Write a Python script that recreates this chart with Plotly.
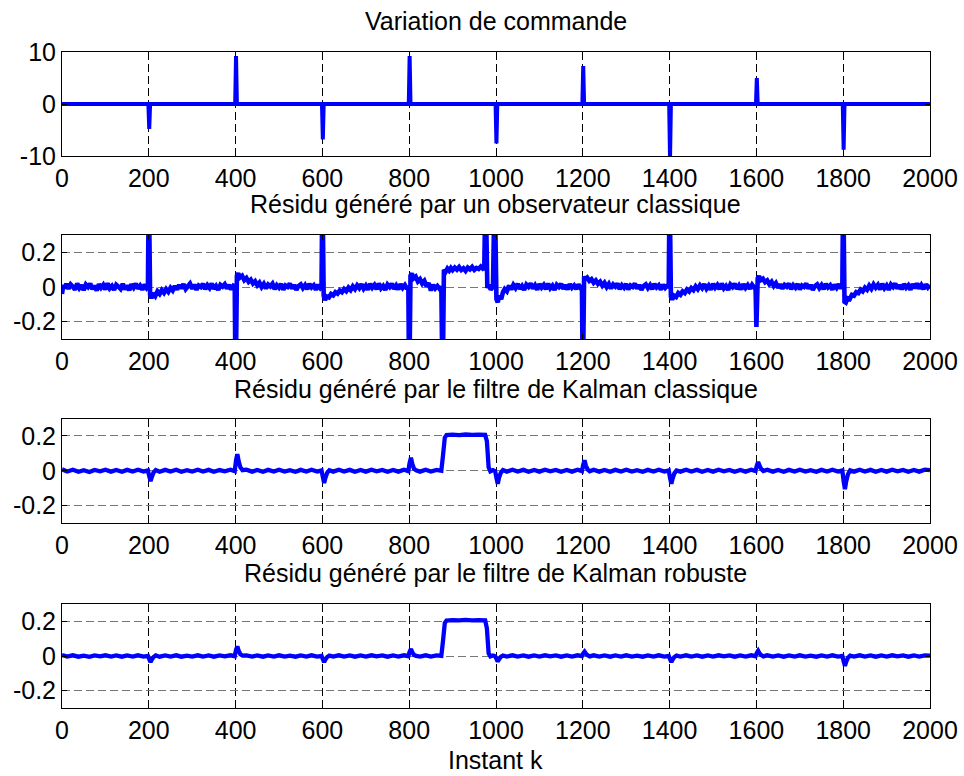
import plotly.graph_objects as go

# ---------------- data ----------------
# Panel 1 : Variation de commande
k_cmd = [0, 199, 201, 203, 399, 401, 403, 599, 601, 603, 799, 801, 803, 999, 1001, 1003,
         1199, 1201, 1203, 1399, 1401, 1403, 1599, 1601, 1603, 1799, 1801, 1803, 2000]
v_cmd = [0, 0, -4.8, 0, 0, 9.2, 0, 0, -6.8, 0, 0, 9.2, 0, 0, -7.6, 0,
         0, 7.3, 0, 0, -10.5, 0, 0, 5.0, 0, 0, -8.8, 0, 0]

# Panel 2 : Résidu généré par un observateur classique (segment by segment)
k_obs_0 = [0, 3, 6, 10, 15, 20, 25, 30, 35, 40, 45, 50, 55, 60, 65, 70, 75, 80, 85, 90, 95,
           100, 105, 110, 115, 120, 125, 130, 135, 140, 145, 150, 155, 160, 165, 170, 175, 180, 185, 190, 195, 198]
v_obs_0 = [-0.04, 0.012, -0.008, 0.018, -0.01, 0.015, 0.002, -0.016, 0.02, -0.006, 0.011, -0.018, 0.014, 0.0,
           0.019, -0.012, 0.008, -0.02, 0.016, -0.004, 0.012, -0.015, 0.021, -0.008, 0.006, -0.017, 0.013, 0.002,
           -0.011, 0.018, -0.014, 0.009, -0.019, 0.015, -0.003, 0.02, -0.01, 0.007, -0.016, 0.014, -0.006, 0.004]
k_obs_200 = [200, 203, 206, 210, 215, 220, 225, 230, 235, 240, 245, 250, 255, 260, 265, 270, 275, 280, 285, 290, 295,
             300, 305, 310, 315, 320, 325, 330, 335, 340, 345, 350, 355, 360, 365, 370, 375, 380, 385, 390, 395, 398]
v_obs_200 = [0.6, -0.045, -0.065, -0.035, -0.052, -0.025, -0.04, -0.018, -0.034, -0.012, -0.028, -0.005, -0.02, 0.006,
             -0.014, 0.012, -0.008, 0.017, -0.012, 0.004, 0.019, -0.01, 0.013, -0.016, 0.008, 0.0, 0.018, -0.013,
             0.01, -0.006, 0.02, -0.011, 0.006, -0.017, 0.012, 0.002, 0.016, -0.009, 0.011, -0.014, 0.007, 0.003]
k_obs_400 = [400, 403, 406, 410, 415, 420, 425, 430, 435, 440, 445, 450, 455, 460, 465, 470, 475, 480, 485, 490, 495,
             500, 505, 510, 515, 520, 525, 530, 535, 540, 545, 550, 555, 560, 565, 570, 575, 580, 585, 590, 595, 598]
v_obs_400 = [-0.6, 0.065, 0.078, 0.055, 0.065, 0.04, 0.052, 0.03, 0.042, 0.02, 0.033, 0.01, 0.025, 0.0,
             0.018, -0.008, 0.014, 0.003, 0.019, -0.012, 0.01, -0.004, 0.017, -0.015, 0.009, 0.001, 0.02, -0.01,
             0.012, -0.017, 0.006, 0.015, -0.006, 0.011, -0.013, 0.018, -0.002, 0.01, -0.016, 0.013, -0.005, 0.004]
k_obs_600 = [600, 603, 606, 610, 615, 620, 625, 630, 635, 640, 645, 650, 655, 660, 665, 670, 675, 680, 685, 690, 695,
             700, 705, 710, 715, 720, 725, 730, 735, 740, 745, 750, 755, 760, 765, 770, 775, 780, 785, 790, 795, 798]
v_obs_600 = [0.6, -0.05, -0.075, -0.055, -0.06, -0.04, -0.048, -0.03, -0.038, -0.02, -0.03, -0.012, -0.024, -0.004,
             -0.018, 0.004, -0.012, 0.01, -0.006, 0.016, -0.01, 0.008, -0.015, 0.018, -0.004, 0.012, -0.012, 0.02,
             -0.008, 0.006, -0.016, 0.014, 0.0, 0.019, -0.011, 0.009, -0.014, 0.016, -0.005, 0.011, -0.01, 0.005]
k_obs_800 = [800, 803, 806, 810, 815, 820, 825, 830, 835, 840, 845, 850, 855, 860, 865, 870, 874]
v_obs_800 = [-0.6, 0.065, 0.078, 0.05, 0.06, 0.032, 0.045, 0.02, 0.035, 0.005, 0.022, -0.02, 0.012, -0.008, 0.006, -0.01, 0.002]
k_obs_877 = [877, 880, 884, 888, 892, 896, 900, 905, 910, 915, 920, 925, 930, 935, 940, 945, 950, 955, 960, 965, 970, 973]
v_obs_877 = [-0.6, 0.1, 0.088, 0.106, 0.094, 0.11, 0.097, 0.112, 0.1, 0.115, 0.098, 0.108, 0.093, 0.112, 0.102,
             0.116, 0.099, 0.11, 0.104, 0.118, 0.106, 0.11]
k_obs_976 = [976, 980, 984, 988, 993]
v_obs_976 = [0.6, -0.005, 0.012, -0.015, 0.002]
k_obs_1000 = [997, 1001, 1004, 1008, 1012, 1016, 1020, 1025, 1030, 1035, 1040, 1045, 1050, 1055, 1060, 1065, 1070,
              1075, 1080, 1085, 1090, 1095, 1100, 1105, 1110, 1115, 1120, 1125, 1130, 1135, 1140, 1145, 1150, 1155,
              1160, 1165, 1170, 1175, 1180, 1185, 1190, 1195, 1198]
v_obs_1000 = [0.6, -0.07, -0.088, -0.05, -0.07, -0.03, -0.012, -0.025, 0.008, -0.014, 0.012, -0.006, 0.018, -0.011,
              0.006, -0.016, 0.014, 0.001, 0.02, -0.009, 0.01, -0.015, 0.017, -0.003, 0.012, -0.012, 0.019, -0.007,
              0.008, -0.017, 0.013, 0.0, 0.018, -0.01, 0.011, -0.014, 0.016, -0.004, 0.009, -0.012, 0.015, -0.006, 0.003]
k_obs_1200 = [1200, 1203, 1206, 1210, 1215, 1220, 1225, 1230, 1235, 1240, 1245, 1250, 1255, 1260, 1265, 1270, 1275,
              1280, 1285, 1290, 1295, 1300, 1305, 1310, 1315, 1320, 1325, 1330, 1335, 1340, 1345, 1350, 1355, 1360,
              1365, 1370, 1375, 1380, 1385, 1390, 1395, 1398]
v_obs_1200 = [-0.6, 0.06, 0.048, 0.055, 0.035, 0.045, 0.025, 0.038, 0.018, 0.03, 0.008, 0.024, 0.0, 0.018,
              -0.008, 0.014, 0.002, 0.019, -0.012, 0.01, -0.004, 0.017, -0.014, 0.009, 0.001, 0.02, -0.01, 0.012,
              -0.016, 0.006, 0.015, -0.006, 0.011, -0.013, 0.018, -0.002, 0.01, -0.015, 0.013, -0.005, 0.008, 0.004]
k_obs_1400 = [1400, 1403, 1406, 1410, 1415, 1420, 1425, 1430, 1435, 1440, 1445, 1450, 1455, 1460, 1465, 1470, 1475,
              1480, 1485, 1490, 1495, 1500, 1505, 1510, 1515, 1520, 1525, 1530, 1535, 1540, 1545, 1550, 1555, 1560,
              1565, 1570, 1575, 1580, 1585, 1590, 1595, 1598]
v_obs_1400 = [0.6, -0.055, -0.072, -0.05, -0.058, -0.035, -0.045, -0.025, -0.035, -0.015, -0.026, -0.006, -0.018, 0.004,
              -0.012, 0.01, -0.006, 0.016, -0.01, 0.008, -0.015, 0.018, -0.004, 0.012, -0.012, 0.02, -0.008, 0.006,
              -0.016, 0.014, 0.0, 0.019, -0.011, 0.009, -0.014, 0.016, -0.005, 0.011, -0.01, 0.013, -0.004, 0.006]
k_obs_1600 = [1600, 1603, 1606, 1610, 1615, 1620, 1625, 1630, 1635, 1640, 1645, 1650, 1655, 1660, 1665, 1670, 1675,
              1680, 1685, 1690, 1695, 1700, 1705, 1710, 1715, 1720, 1725, 1730, 1735, 1740, 1745, 1750, 1755, 1760,
              1765, 1770, 1775, 1780, 1785, 1790, 1795, 1798]
v_obs_1600 = [-0.23, 0.05, 0.062, 0.04, 0.048, 0.028, 0.038, 0.016, 0.03, 0.006, 0.022, -0.004, 0.016, -0.01,
              0.012, 0.002, 0.019, -0.012, 0.01, -0.004, 0.017, -0.014, 0.009, 0.001, 0.02, -0.01, 0.012, -0.016,
              0.006, 0.015, -0.006, 0.011, -0.013, 0.018, -0.002, 0.01, -0.015, 0.013, -0.005, 0.016, -0.008, 0.004]
k_obs_1800 = [1800, 1803, 1806, 1810, 1815, 1820, 1825, 1830, 1835, 1840, 1845, 1850, 1855, 1860, 1865, 1870, 1875,
              1880, 1885, 1890, 1895, 1900, 1905, 1910, 1915, 1920, 1925, 1930, 1935, 1940, 1945, 1950, 1955, 1960,
              1965, 1970, 1975, 1980, 1985, 1990, 1995, 2000]
v_obs_1800 = [0.6, -0.085, -0.09, -0.065, -0.07, -0.045, -0.05, -0.03, -0.035, -0.015, -0.025, -0.004, -0.016, 0.008,
              -0.01, 0.015, -0.004, 0.012, -0.014, 0.019, -0.007, 0.009, -0.016, 0.014, 0.0, 0.02, -0.01, 0.012,
              -0.013, 0.017, -0.004, 0.01, -0.015, 0.016, -0.006, 0.021, -0.009, 0.011, -0.012, 0.015, -0.003, 0.012]

k_obs = (k_obs_0 + k_obs_200 + k_obs_400 + k_obs_600 + k_obs_800 + k_obs_877 + k_obs_976
         + k_obs_1000 + k_obs_1200 + k_obs_1400 + k_obs_1600 + k_obs_1800)
v_obs = (v_obs_0 + v_obs_200 + v_obs_400 + v_obs_600 + v_obs_800 + v_obs_877 + v_obs_976
         + v_obs_1000 + v_obs_1200 + v_obs_1400 + v_obs_1600 + v_obs_1800)

# Panels 3 and 4 share the same sampling instants
k_kal = [0, 12, 25, 38, 50, 63, 75, 88, 100, 113, 125, 138, 150, 163, 175, 188, 198,
         201, 204, 207, 211, 216, 225, 238, 250, 263, 275, 288, 300, 313, 325, 338, 350, 363, 375, 388, 398,
         401, 404, 407, 411, 416, 425, 438, 450, 463, 475, 488, 500, 513, 525, 538, 550, 563, 575, 588, 598,
         601, 604, 607, 611, 616, 625, 638, 650, 663, 675, 688, 700, 713, 725, 738, 750, 763, 775, 788, 798,
         801, 804, 807, 811, 816, 825, 838, 850, 863, 874, 878, 882, 886, 900, 915, 930, 945, 960, 975, 979, 983, 987, 993, 998,
         1001, 1004, 1007, 1011, 1016, 1025, 1038, 1050, 1063, 1075, 1088, 1100, 1113, 1125, 1138, 1150, 1163, 1175, 1188, 1198,
         1201, 1204, 1207, 1211, 1216, 1225, 1238, 1250, 1263, 1275, 1288, 1300, 1313, 1325, 1338, 1350, 1363, 1375, 1388, 1398,
         1401, 1404, 1407, 1411, 1416, 1425, 1438, 1450, 1463, 1475, 1488, 1500, 1513, 1525, 1538, 1550, 1563, 1575, 1588, 1598,
         1601, 1604, 1607, 1611, 1616, 1625, 1638, 1650, 1663, 1675, 1688, 1700, 1713, 1725, 1738, 1750, 1763, 1775, 1788, 1798,
         1801, 1804, 1807, 1811, 1816, 1825, 1838, 1850, 1863, 1875, 1888, 1900, 1913, 1925, 1938, 1950, 1963, 1975, 1988, 2000]

# Panel 3 : Résidu généré par le filtre de Kalman classique
v_kc = [0.008, -0.004, 0.006, -0.006, 0.003, -0.007, 0.005, -0.003, 0.006, -0.005, 0.004, -0.006, 0.005, -0.004, 0.006, -0.005, 0.002,
        -0.03, -0.06, -0.035, -0.01, 0.004, -0.006, 0.005, -0.004, 0.006, -0.006, 0.003, -0.005, 0.006, -0.004, 0.005, -0.006, 0.004, -0.003, 0.006, -0.002,
        0.06, 0.095, 0.055, 0.02, 0.003, 0.006, -0.005, 0.004, -0.006, 0.005, -0.004, 0.006, -0.005, 0.003, -0.006, 0.005, -0.004, 0.006, -0.005, 0.002,
        -0.035, -0.07, -0.04, -0.012, 0.003, -0.005, 0.006, -0.004, 0.005, -0.006, 0.004, -0.005, 0.006, -0.003, 0.005, -0.006, 0.004, -0.005, 0.006, -0.002,
        0.045, 0.075, 0.04, 0.012, 0.002, -0.005, 0.006, -0.004, 0.005, 0.0, 0.09, 0.19, 0.205, 0.207, 0.205, 0.208, 0.206, 0.207, 0.206, 0.17, 0.02, -0.003, 0.004, -0.002,
        -0.04, -0.075, -0.04, -0.012, 0.004, -0.005, 0.006, -0.004, 0.005, -0.006, 0.004, -0.005, 0.006, -0.003, 0.005, -0.006, 0.004, -0.005, 0.006, -0.002,
        0.035, 0.06, 0.03, 0.008, -0.003, 0.006, -0.005, 0.004, -0.006, 0.005, -0.004, 0.006, -0.005, 0.003, -0.006, 0.005, -0.004, 0.006, -0.005, 0.002,
        -0.04, -0.075, -0.045, -0.015, 0.002, -0.005, 0.006, -0.004, 0.005, -0.006, 0.004, -0.005, 0.006, -0.003, 0.005, -0.006, 0.004, -0.005, 0.006, -0.002,
        0.03, 0.05, 0.03, 0.01, -0.002, 0.006, -0.005, 0.004, -0.006, 0.005, -0.004, 0.006, -0.005, 0.003, -0.006, 0.005, -0.004, 0.006, -0.005, 0.002,
        -0.06, -0.105, -0.06, -0.02, 0.002, -0.005, 0.006, -0.004, 0.005, -0.006, 0.004, -0.005, 0.006, -0.003, 0.005, -0.006, 0.004, -0.005, 0.006, 0.003]

# Panel 4 : Résidu généré par le filtre de Kalman robuste
v_kr = [0.006, -0.003, 0.004, -0.004, 0.002, -0.005, 0.003, -0.002, 0.004, -0.003, 0.003, -0.004, 0.003, -0.003, 0.004, -0.003, 0.001,
        -0.018, -0.035, -0.02, -0.006, 0.003, -0.004, 0.003, -0.003, 0.004, -0.004, 0.002, -0.003, 0.004, -0.003, 0.003, -0.004, 0.003, -0.002, 0.004, -0.001,
        0.035, 0.055, 0.03, 0.01, 0.002, 0.004, -0.003, 0.003, -0.004, 0.003, -0.003, 0.004, -0.003, 0.002, -0.004, 0.003, -0.003, 0.004, -0.003, 0.001,
        -0.018, -0.035, -0.02, -0.006, 0.002, -0.003, 0.004, -0.003, 0.003, -0.004, 0.003, -0.003, 0.004, -0.002, 0.003, -0.004, 0.003, -0.003, 0.004, -0.001,
        0.025, 0.04, 0.022, 0.006, 0.001, -0.003, 0.004, -0.003, 0.003, 0.0, 0.09, 0.19, 0.205, 0.207, 0.205, 0.208, 0.206, 0.207, 0.206, 0.16, 0.015, -0.002, 0.003, -0.001,
        -0.016, -0.032, -0.018, -0.005, 0.003, -0.003, 0.004, -0.003, 0.003, -0.004, 0.003, -0.003, 0.004, -0.002, 0.003, -0.004, 0.003, -0.003, 0.004, -0.001,
        0.015, 0.025, 0.014, 0.004, -0.002, 0.004, -0.003, 0.003, -0.004, 0.003, -0.003, 0.004, -0.003, 0.002, -0.004, 0.003, -0.003, 0.004, -0.003, 0.001,
        -0.018, -0.035, -0.02, -0.006, 0.002, -0.003, 0.004, -0.003, 0.003, -0.004, 0.003, -0.003, 0.004, -0.002, 0.003, -0.004, 0.003, -0.003, 0.004, -0.001,
        0.018, 0.03, 0.016, 0.005, -0.002, 0.004, -0.003, 0.003, -0.004, 0.003, -0.003, 0.004, -0.003, 0.002, -0.004, 0.003, -0.003, 0.004, -0.003, 0.001,
        -0.03, -0.057, -0.032, -0.01, 0.002, -0.003, 0.004, -0.003, 0.003, -0.004, 0.003, -0.003, 0.004, -0.002, 0.003, -0.004, 0.003, -0.003, 0.004, 0.002]

titles = ["Variation de commande",
          "Résidu généré par un observateur classique",
          "Résidu généré par le filtre de Kalman classique",
          "Résidu généré par le filtre de Kalman robuste"]
x_label = "Instant k"
x_ticks = [0, 200, 400, 600, 800, 1000, 1200, 1400, 1600, 1800, 2000]
y_ticks_cmd = [-10, 0, 10]
y_ticks_res = [-0.2, 0, 0.2]
y_ticktext_res = ["-0.2", "0", "0.2"]

# ---------------- figure ----------------
W, H = 964, 776
FONT = "Liberation Sans, Arial, sans-serif"
FS = 25

x_dom = [62 / W, 930 / W]
panel_px = [(52, 156), (235, 339), (418.5, 523), (604, 708)]
y_doms = [[1 - b / H, 1 - t / H] for (t, b) in panel_px]

series = [(k_cmd, v_cmd), (k_obs, v_obs), (k_kal, v_kc), (k_kal, v_kr)]
ranges = [[-10, 10], [-0.3, 0.3], [-0.3, 0.3], [-0.3, 0.3]]
widths = [4, 4.6, 4.3, 4.3]

fig = go.Figure()
layout = dict(
    template="none",
    width=W, height=H, autosize=False,
    margin=dict(l=0, r=0, t=0, b=0, pad=0),
    paper_bgcolor="white", plot_bgcolor="white",
    font=dict(family=FONT, size=FS, color="black"),
    showlegend=False,
)

for i, (k, v) in enumerate(series):
    sfx = "" if i == 0 else str(i + 1)
    fig.add_trace(go.Scatter(x=k, y=v, mode="lines",
                             line=dict(color="#0000FF", width=widths[i], simplify=False),
                             xaxis="x" + sfx, yaxis="y" + sfx,
                             hoverinfo="skip"))
    layout["xaxis" + sfx] = dict(
        domain=x_dom, anchor="y" + sfx, range=[0, 2000], automargin=False,
        tickmode="array", tickvals=x_ticks,
        ticks="inside", ticklen=5, tickcolor="black",
        showline=True, linecolor="black", linewidth=1, mirror="ticks",
        showgrid=True, gridcolor="black", gridwidth=1, griddash="8px,4px",
        zeroline=False, tickfont=dict(family=FONT, size=FS, color="black"),
    )
    if i == 0:
        yt, ytt = y_ticks_cmd, [str(t) for t in y_ticks_cmd]
    else:
        yt, ytt = y_ticks_res, y_ticktext_res
    layout["yaxis" + sfx] = dict(
        domain=y_doms[i], anchor="x" + sfx, range=ranges[i], automargin=False,
        tickmode="array", tickvals=yt, ticktext=ytt,
        ticks="inside", ticklen=5, tickcolor="black",
        showline=True, linecolor="black", linewidth=1, mirror="ticks",
        showgrid=True, gridcolor="#777777", gridwidth=1, griddash="8px,4px",
        zeroline=False, tickfont=dict(family=FONT, size=FS, color="black"),
    )

title_centers = [21, 204, 388.5, 573]
annotations = []
xc = (62 + 930) / 2 / W
for t, yc in zip(titles, title_centers):
    annotations.append(dict(text=t, xref="paper", yref="paper", x=xc, y=1 - yc / H,
                            xanchor="center", yanchor="middle", showarrow=False,
                            font=dict(family=FONT, size=FS, color="black")))
annotations.append(dict(text=x_label, xref="paper", yref="paper", x=xc, y=1 - 760 / H,
                        xanchor="center", yanchor="middle", showarrow=False,
                        font=dict(family=FONT, size=FS, color="black")))
layout["annotations"] = annotations

fig.update_layout(**layout)
fig.write_html("out.html")
